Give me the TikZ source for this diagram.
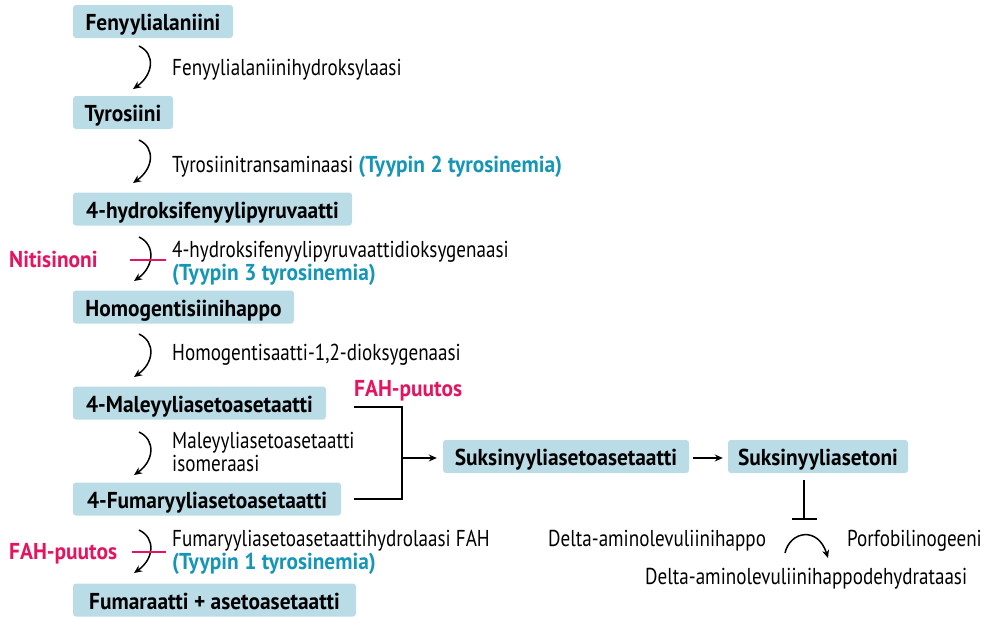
\documentclass[tikz,border=0pt]{standalone}
\usepackage{fontspec}
\setmainfont{PT Sans}[FakeStretch=0.83]
\newfontfamily\bfam{PT Sans}[FakeStretch=0.93]
\usetikzlibrary{arrows.meta,calc}
\definecolor{boxblue}{RGB}{186,220,231}
\definecolor{teal}{RGB}{22,150,183}
\definecolor{pinkred}{RGB}{228,20,95}
\tikzset{
  chem/.style={fill=boxblue, rounded corners=3pt, inner sep=0pt, font=\fontsize{23}{26}\bfam\bfseries,
    text height=18pt, text depth=0pt, minimum height=33pt, align=center},
  lbl/.style={font=\fontsize{23}{24}\selectfont, inner sep=0pt, anchor=base west, align=left},
  pinklbl/.style={font=\fontsize{23}{24}\bfam\bfseries, text=pinkred, inner sep=0pt, anchor=base west},
  conn/.style={line width=1.5pt, -{Stealth[length=8pt,width=7pt]}},
  plain/.style={line width=1.5pt},
  inhib/.style={line width=1.5pt, pinkred}
}
\newcommand{\tyyp}[1]{\textcolor{teal}{\bfam\bfseries #1}}
\begin{document}
\begin{tikzpicture}[x=1pt,y=-1pt]
\useasboundingbox (0,0) rectangle (984,616);
% boxes
\node[chem, minimum width=160pt] (fen) at (153,21.5) {Fenyylialaniini};
\node[chem, minimum width=100pt] (tyr) at (123,112.5) {Tyrosiini};
\node[chem, minimum width=279pt] (hpp) at (212.5,209) {4-hydroksifenyylipyruvaatti};
\node[chem, minimum width=221pt] (hga) at (183.5,307) {Homogentisiinihappo};
\node[chem, minimum width=253pt] (maa) at (199.5,403) {4-Maleyyliasetoasetaatti};
\node[chem, minimum width=268pt] (faa) at (207,499) {4-Fumaryyliasetoasetaatti};
\node[chem, minimum width=283pt] (fum) at (214.5,600) {Fumaraatti + asetoasetaatti};
\node[chem, minimum width=246pt] (saa) at (566,456.5) {Suksinyyliasetoasetaatti};
\node[chem, minimum width=180pt] (sa) at (818,456.5) {Suksinyyliasetoni};
% enzyme labels
\node[lbl] (e1) at (172,75) {Fenyylialaniinihydroksylaasi};
\node[lbl] (e2) at (172,172) {Tyrosiinitransaminaasi \tyyp{(Tyypin 2 tyrosinemia)}};
\node[lbl] (e3) at (172,280) {4-hydroksifenyylipyruvaattidioksygenaasi\\[-1.5pt]\tyyp{(Tyypin 3 tyrosinemia)}};
\node[lbl] (e4) at (172,360) {Homogentisaatti-1,2-dioksygenaasi};
\node[lbl] (e5) at (172,471) {Maleyyliasetoasetaatti\\[-1pt]isomeraasi};
\node[lbl] (e6) at (172,569) {Fumaryyliasetoasetaattihydrolaasi FAH\\[-1.5pt]\tyyp{(Tyypin 1 tyrosinemia)}};
\node[pinklbl] (nit) at (9,267) {Nitisinoni};
\node[pinklbl] (fah1) at (9,559) {FAH-puutos};
\node[pinklbl] (fah2) at (354,396) {FAH-puutos};
\node[lbl] (ala) at (548,546) {Delta-aminolevuliinihappo};
\node[lbl] (pbg) at (847,546) {Porfobilinogeeni};
\node[lbl] (alad) at (645,584) {Delta-aminolevuliinihappodehydrataasi};
% curved step arrows
\coordinate (s1) at (139,46);  \coordinate (t1) at (133,89);
\coordinate (s2) at (139,140); \coordinate (t2) at (133,183);
\coordinate (s3) at (139,237); \coordinate (t3) at (134,281);
\coordinate (s4) at (139,334); \coordinate (t4) at (134,377);
\coordinate (s5) at (139,432); \coordinate (t5) at (134,475);
\coordinate (s6) at (139,530); \coordinate (t6) at (134,573);
\foreach \i in {1,...,6}{
  \draw[conn] (s\i) .. controls ($(s\i)+(17,8)$) and ($(t\i)+(20,-14)$) .. (t\i);
}
% inhibitor bars (pink)
\coordinate (n1) at (130,260); \coordinate (n2) at (166,260);
\draw[inhib] (n1) -- (n2);
\coordinate (f1) at (132,552); \coordinate (f2) at (166,552);
\draw[inhib] (f1) -- (f2);
% bracket
\coordinate (bt) at (354,407);
\coordinate (bb) at (354,499);
\coordinate (bj) at (402,458);
\draw[plain] (bt) -| (bj) |- (bb);
\draw[conn] (bj) -- ($(saa.west)+(-6,1.5)$);
\draw[conn] ($(saa.east)+(4,1.5)$) -- ($(sa.west)+(-5,1.5)$);
% inhibition of ALAD
\coordinate (i1) at (804,480);
\coordinate (i2) at (804,519);
\draw[plain] (i1) -- (i2);
\coordinate (ib1) at (792,519); \coordinate (ib2) at (817,519);
\draw[plain] (ib1) -- (ib2);
% ALAD reaction arrow
\coordinate (r1) at (785,553);
\coordinate (r2) at (828,558);
\draw[conn] (r1) .. controls (790,531) and (818,526) .. (r2);
\end{tikzpicture}
\end{document}
